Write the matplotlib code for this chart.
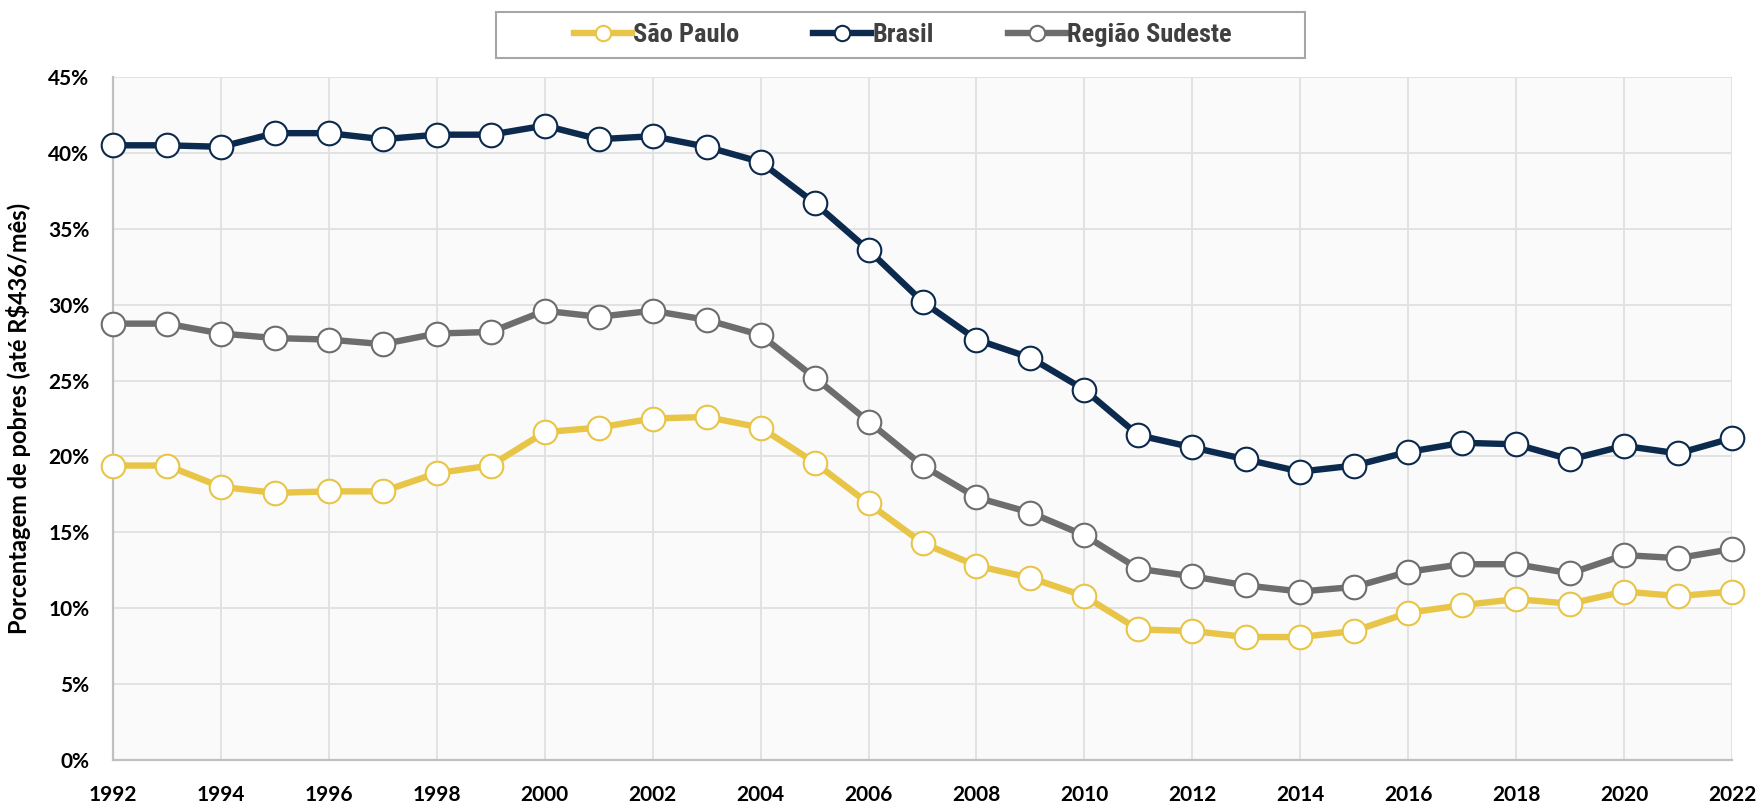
import matplotlib
matplotlib.use("Agg")
import matplotlib.pyplot as plt
from matplotlib.ticker import FuncFormatter, MultipleLocator
from matplotlib.patches import Rectangle
from matplotlib import font_manager

years = list(range(1992, 2023))
brasil = [40.5, 40.5, 40.4, 41.3, 41.3, 40.9, 41.2, 41.2, 41.8, 40.9, 41.1, 40.4, 39.4,
          36.7, 33.6, 30.2, 27.7, 26.5, 24.4, 21.4, 20.6, 19.8, 19.0, 19.4, 20.3, 20.9,
          20.8, 19.8, 20.7, 20.2, 21.2]
sudeste = [28.75, 28.75, 28.1, 27.8, 27.7, 27.4, 28.1, 28.2, 29.6, 29.2, 29.6, 29.0, 28.0,
           25.2, 22.3, 19.4, 17.3, 16.3, 14.8, 12.6, 12.1, 11.5, 11.1, 11.4, 12.4, 12.9,
           12.9, 12.3, 13.5, 13.3, 13.9]
sao_paulo = [19.4, 19.4, 18.0, 17.6, 17.7, 17.7, 18.9, 19.4, 21.6, 21.9, 22.5, 22.6, 21.9,
             19.6, 16.9, 14.3, 12.8, 12.0, 10.8, 8.6, 8.5, 8.1, 8.1, 8.5, 9.7, 10.2,
             10.6, 10.3, 11.1, 10.8, 11.1]
series_names = ["São Paulo", "Brasil", "Região Sudeste"]
y_label = "Porcentagem de pobres (até R$436/mês)"

avail = {f.name for f in font_manager.fontManager.ttflist}
main_font = "Lato" if "Lato" in avail else "DejaVu Sans"
leg_font = main_font
for cand in ["Roboto Condensed", "Liberation Sans Narrow", "Open Sans Condensed"]:
    if cand in avail:
        leg_font = cand
        break
plt.rcParams['font.family'] = [main_font, 'DejaVu Sans']

W, H = 1761, 802
fig = plt.figure(figsize=(W / 100, H / 100), dpi=100)
ax = fig.add_axes([113 / W, 1 - 760 / H, (1732 - 113) / W, (760 - 77) / H])
ax.set_facecolor("#fafafa")

colors = {"São Paulo": "#e8c547", "Brasil": "#0b2a4d", "Região Sudeste": "#6d6d6d"}
data = {"São Paulo": sao_paulo, "Brasil": brasil, "Região Sudeste": sudeste}
handles = []
for name in series_names:
    h, = ax.plot(years, data[name], color=colors[name], lw=4.6, marker="o", ms=17,
                 mfc="white", mec=colors[name], mew=1.5, zorder=3, solid_joinstyle="round",
                 clip_on=False, label=name)
    handles.append(h)

ax.set_xlim(1992, 2022)
ax.set_ylim(0, 45)
ax.xaxis.set_major_locator(MultipleLocator(2))
ax.yaxis.set_major_locator(MultipleLocator(5))
ax.yaxis.set_major_formatter(FuncFormatter(lambda v, p: f"{v:.0f}%"))
ax.grid(True, color="#e2e2e2", lw=1.4, zorder=0)
ax.set_axisbelow(True)
for s in ["top", "right"]:
    ax.spines[s].set_visible(False)
for s in ["left", "bottom"]:
    ax.spines[s].set_color("#c0c0c0")
    ax.spines[s].set_linewidth(1.6)
ax.tick_params(axis="both", length=0, labelsize=15)
ax.tick_params(axis="x", pad=18)
ax.tick_params(axis="y", pad=17)
for lab in ax.get_xticklabels() + ax.get_yticklabels():
    lab.set_fontweight("bold")
ax.set_ylabel(y_label, fontsize=17, fontweight="bold", labelpad=12)

# legend box
fig.patches.append(Rectangle((496 / W, 1 - 58 / H), (1305 - 496) / W, 46 / H,
                             transform=fig.transFigure, facecolor="white",
                             edgecolor="#a6a6a6", lw=1.5, zorder=0))
leg = fig.legend(handles=handles, loc="center", bbox_to_anchor=(903 / W, 1 - 35 / H), ncol=3,
                 frameon=False, columnspacing=2.8, handlelength=2.2, handletextpad=0.05,
                 markerscale=0.65,
                 prop={"family": leg_font, "weight": "bold", "size": 19})
for t in leg.get_texts():
    t.set_color("#404040")

fig.savefig("out.png", dpi=100)
